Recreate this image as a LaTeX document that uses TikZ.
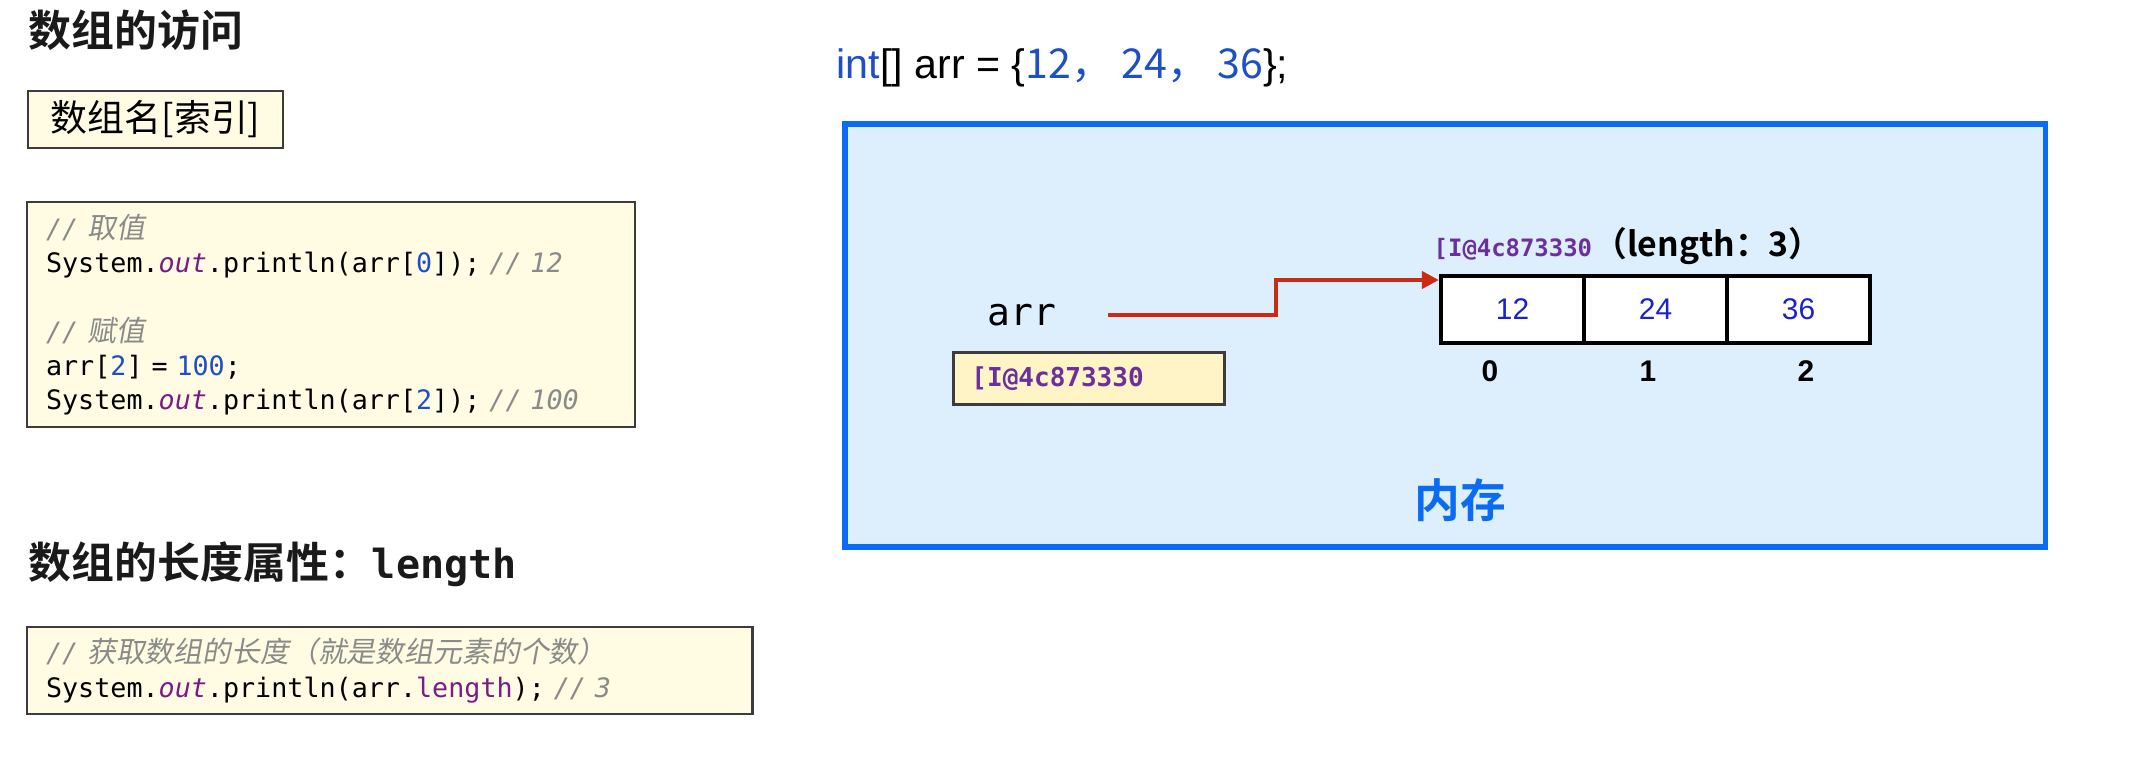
\documentclass[tikz,border=0pt]{standalone}
\usepackage{fontspec}
\usepackage{xcolor}
\usepackage{tikz}
\usetikzlibrary{positioning,arrows.meta}
\newfontfamily\cjk{Noto Sans CJK SC}[BoldFont={Noto Sans CJK SC Bold}]
\newfontfamily\cjkit{Noto Sans CJK SC}[FakeSlant=0.18,Scale=1.08]
\newfontfamily\code{DejaVu Sans Mono}[ItalicFont={DejaVu Sans Mono Oblique},BoldFont={DejaVu Sans Mono Bold}]
\newfontfamily\sans{Liberation Sans}
\definecolor{ink}{HTML}{1A1A1A}
\definecolor{frame}{HTML}{3C3C3C}
\definecolor{notebg}{HTML}{FFFCE3}
\definecolor{addrbg}{HTML}{FFF4C6}
\definecolor{membg}{HTML}{DDEEFD}
\definecolor{memline}{HTML}{0A6CF2}
\definecolor{ptr}{HTML}{CC2A12}
\definecolor{num}{HTML}{1F4FC4}
\definecolor{val}{HTML}{1A22CC}
\definecolor{addr}{HTML}{6B2F9E}
\definecolor{fld}{HTML}{7B1B86}
\definecolor{cmt}{HTML}{8A8A8A}
\newcommand\jcmt[1]{{\color{cmt}\itshape #1}}
\newcommand\jfld[1]{{\color{fld}#1}}
\newcommand\jlit[1]{{\color{num}#1}}

\begin{document}
\begin{tikzpicture}[x=0.01cm,y=-0.01cm,
  head/.style={font=\cjk\bfseries\fontsize{12.2}{14}\selectfont,text=ink,inner sep=0pt,anchor=west},
  note/.style={draw=frame,line width=0.6pt,fill=notebg,inner sep=0pt,anchor=north west},
  listing/.style={note,align=left,font=\code\fontsize{7.6}{9.75}\selectfont},
  cell/.style={draw=black,line width=1.2pt,fill=white,minimum width=14.3mm,minimum height=6.7mm,
    inner sep=0pt,text=val,font=\sans\fontsize{8.5}{10}\selectfont},
  idx/.style={font=\sans\bfseries\fontsize{8.5}{10}\selectfont,inner sep=0pt}]
\useasboundingbox[fill=white] (0,0) rectangle (2132,767);

% left column
\node[head] (access) at (28,30) {数组的访问};
\node[note,minimum width=25.5mm,minimum height=5.7mm,font=\cjk\fontsize{10.5}{12}\selectfont] (syntax) at (27,90) {数组名[索引]};
\node[listing,minimum width=60.8mm,minimum height=22.5mm,text width=57mm] (getset) at (26,201) {%
\jcmt{// {\cjkit 取值}}\\
System.\jfld{\itshape out}.println(arr[\jlit{0}]); \jcmt{// 12}\\
\mbox{}\\
\jcmt{// {\cjkit 赋值}}\\
arr[\jlit{2}] = \jlit{100};\\
System.\jfld{\itshape out}.println(arr[\jlit{2}]); \jcmt{// 100}};

\node[head] (lenhead) at (28,564) {数组的长度属性：{\code\fontsize{11.4}{14}\selectfont length}};
\node[listing,minimum width=72.5mm,minimum height=8.7mm,text width=68.7mm] (lencode) at (26,626) {%
\jcmt{// {\cjkit 获取数组的长度（就是数组元素的个数）}}\\
System.\jfld{\itshape out}.println(arr.\jfld{length}); \jcmt{// 3}};

% right: memory
\node[anchor=west,inner sep=0pt,font=\sans\fontsize{11.7}{14}\selectfont] (decl) at (836,68)
  {{\color{num}int}[] arr = \{{\cjk\color{num}12，\ 24，\ 36}\};};
\node[draw=memline,line width=1.6pt,fill=membg,anchor=north west,minimum width=120mm,minimum height=42.3mm,inner sep=0pt] (mem) at (842,121) {};
\node[font=\cjk\bfseries\fontsize{13}{15}\selectfont,text=memline,inner sep=0pt] (memname) at (1460,500) {内存};

\node[font=\code\fontsize{10.8}{12}\selectfont,inner sep=0pt] (arrvar) at (1022,315) {arr};
\node[draw=frame,line width=0.8pt,fill=addrbg,anchor=north west,minimum width=27.1mm,minimum height=5.2mm,
  text width=23.5mm,align=left,inner sep=0pt,text=addr,font=\code\bfseries\fontsize{7.4}{9}\selectfont] (ref) at (952,351) {[I@4c873330};

\foreach \v [count=\i from 0] in {12,24,36}
  \node[cell] (c\i) at ({1512.5+143*\i},309.5) {\v};
\foreach \x [count=\i from 0] in {1490,1648,1806}
  \node[idx] (n\i) at (\x,371) {\i};

\node[anchor=west,inner sep=0pt,text=addr,font=\code\bfseries\fontsize{6.8}{8}\selectfont] (addr) at (1433,249) {[I@4c873330};
\node[anchor=base west,inner sep=0pt,font=\cjk\bfseries\fontsize{9.6}{11}\selectfont] (len) at (addr.base east) {（length：3）};

\coordinate (knee) at (1276,280);
\draw[ptr,line width=1.15pt,-{Triangle[length=1.7mm,width=1.7mm]}]
  ([xshift=5.1mm]arrvar.east) -| (knee) -- (c0.west |- knee);
\end{tikzpicture}
\end{document}
